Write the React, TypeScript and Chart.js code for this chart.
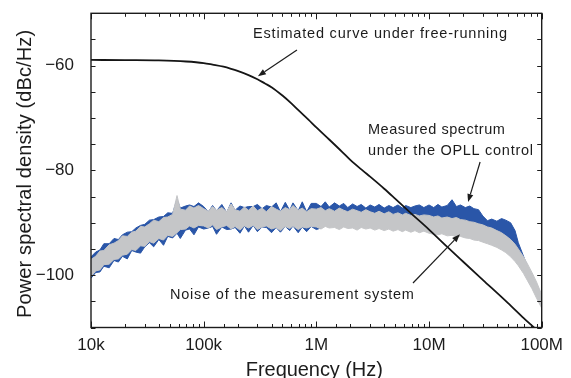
import React, { useEffect, useRef } from 'react';
import { Chart, registerables } from 'chart.js';

Chart.register(...registerables);

// ---------- data ----------
// Frequency grid of the measured traces (mantissas per decade × decades, plus the last point)
const mantissas = [1.0, 1.1, 1.2, 1.3, 1.45, 1.6, 1.75, 1.9, 2.1, 2.3, 2.5, 2.75, 3.0, 3.3, 3.6, 4.0, 4.4, 4.8, 5.3, 5.8, 6.2, 6.9, 7.5, 8.2, 9.0];
const decades = [1e4, 1e5, 1e6, 1e7];
const lastFreq = 1e8;

// Noise of the measurement system (gray): upper / lower envelope, dBc/Hz
const systemNoiseHi = [
  -97.0, -96.4, -95.4, -95.3, -94.2, -93.9, -93.4, -92.5, -92.6, -91.8, -91.6, -90.7, -90.8, -90.2, -89.5, -89.8, -89.0, -88.9, -88.4, -84.8, -87.4, -87.6, -86.8, -87.2, -86.7,
  -87.3, -87.8, -86.9, -87.6, -87.1, -87.9, -86.4, -87.5, -87.8, -87.0, -87.6, -86.8, -87.7, -87.2, -87.9, -86.9, -87.4, -87.8, -87.1, -87.5, -86.7, -87.6, -87.2, -87.9, -87.3,
  -87.4, -87.1, -87.7, -87.3, -87.8, -87.2, -87.6, -87.9, -87.4, -87.7, -88.0, -87.5, -87.9, -88.2, -87.8, -88.3, -87.9, -88.4, -88.1, -88.5, -88.2, -88.6, -88.4, -88.7, -88.5,
  -88.6, -88.9, -88.7, -89.1, -88.9, -89.2, -89.0, -89.4, -89.5, -89.8, -89.9, -90.2, -90.4, -90.8, -91.0, -91.5, -91.9, -92.5, -93.2, -94.1, -95.0, -96.5, -97.9, -99.5, -101.3,
  -103.7,
];
const systemNoiseLo = [
  -100.3, -99.2, -99.0, -98.0, -97.9, -97.0, -96.9, -96.2, -96.0, -95.1, -95.3, -94.4, -94.5, -93.6, -93.9, -93.0, -93.3, -92.4, -92.6, -91.9, -91.3, -91.2, -90.6, -91.0, -90.5,
  -90.6, -91.0, -90.4, -91.3, -90.8, -90.5, -91.2, -90.7, -91.4, -90.6, -91.0, -90.5, -91.3, -90.8, -90.6, -91.2, -90.9, -91.5, -90.7, -91.1, -90.6, -91.3, -90.8, -91.0, -90.7,
  -90.8, -91.2, -90.7, -91.0, -90.9, -91.3, -90.8, -91.1, -91.0, -91.4, -90.9, -91.2, -91.0, -91.4, -91.1, -91.5, -91.2, -91.6, -91.3, -91.7, -91.4, -91.8, -91.5, -91.9, -91.6,
  -92.0, -92.2, -92.3, -92.1, -92.5, -92.4, -92.7, -92.6, -92.9, -93.0, -93.3, -93.4, -93.7, -94.0, -94.3, -94.7, -95.2, -95.7, -96.5, -97.4, -98.2, -99.7, -101.1, -102.6, -104.4,
  -106.3,
];

// Measured spectrum under the OPLL control (blue): upper / lower envelope, dBc/Hz
const measuredHi = [
  -96.5, -95.6, -95.2, -94.0, -94.0, -93.0, -93.2, -92.3, -91.8, -91.7, -91.0, -90.5, -90.3, -89.5, -89.4, -88.9, -88.8, -88.1, -88.2, -85.5, -87.2, -86.8, -86.6, -86.9, -86.2,
  -86.9, -87.9, -86.7, -87.7, -86.5, -88.0, -86.2, -87.6, -86.8, -87.1, -86.9, -86.9, -86.5, -87.3, -86.7, -87.0, -86.2, -87.9, -86.1, -87.6, -86.2, -87.7, -86.0, -87.9, -86.3,
  -86.3, -86.9, -86.0, -87.0, -86.2, -86.8, -86.3, -87.1, -86.4, -86.9, -86.5, -87.2, -86.6, -87.0, -86.5, -87.2, -86.7, -87.1, -86.6, -87.2, -86.7, -87.1, -86.8, -86.6, -87.1,
  -86.6, -87.1, -86.5, -87.0, -86.7, -85.6, -86.9, -86.6, -87.1, -86.8, -87.3, -87.5, -88.7, -89.6, -89.3, -89.7, -89.2, -89.5, -90.0, -91.5, -93.8, -96.4, -98.4, -100.6, -102.6,
  -104.0,
];
const measuredLo = [
  -100.6, -99.5, -99.4, -98.3, -98.6, -97.2, -97.5, -96.4, -96.9, -95.3, -95.6, -95.8, -94.6, -93.8, -94.6, -93.2, -94.3, -92.6, -92.9, -92.0, -93.0, -91.4, -91.2, -92.3, -90.8,
  -91.2, -91.0, -90.7, -92.2, -90.8, -91.3, -91.2, -90.9, -92.0, -90.6, -91.8, -90.5, -91.7, -90.8, -90.9, -91.9, -90.9, -91.8, -90.7, -91.5, -90.6, -91.9, -90.8, -91.7, -90.7,
  -91.3, -91.0, -90.2, -89.9, -89.7, -89.6, -89.4, -89.3, -89.2, -89.1, -89.0, -89.1, -88.9, -89.0, -88.9, -89.0, -88.8, -89.0, -88.9, -89.1, -88.9, -89.0, -89.1, -88.9, -89.0,
  -89.1, -89.3, -89.2, -89.5, -89.4, -89.6, -89.5, -89.8, -89.9, -90.1, -90.3, -90.5, -91.0, -91.3, -91.5, -91.7, -92.0, -92.4, -93.3, -94.4, -95.4, -97.6, -99.2, -101.4, -103.6,
  -105.8,
];

// Estimated curve under free-running (black)
const curveFreqHz = [1e4, 2e4, 4e4, 7e4, 1e5, 1.2e5, 1.5e5, 1.75e5, 2e5, 2.5e5, 3e5, 3.5e5, 4e5, 5e5, 6e5, 7e5, 8.5e5, 1e6, 1.3e6, 1.7e6, 2e6, 2.6e6, 3e6, 4e6, 5e6, 7e6, 1e7, 1.5e7, 2e7, 3e7, 5e7, 7e7, 1e8];
const curveDb = [-58.9, -58.95, -59.0, -59.2, -59.5, -59.8, -60.2, -60.6, -61.0, -61.8, -62.6, -63.4, -64.1, -65.7, -67.2, -68.6, -70.3, -71.8, -74.1, -76.5, -78.0, -80.1, -81.2, -83.5, -85.4, -88.3, -91.3, -94.9, -97.4, -100.9, -105.3, -108.3, -111.3];

// Axes
const xTickValues = [1e4, 1e5, 1e6, 1e7, 1e8];
const xTickLabels = ['10k', '100k', '1M', '10M', '100M'];
const yTickValues = [-60, -80, -100];
const yTickLabels = ['\u221260', '\u221280', '\u2212100'];
const xTitle = 'Frequency (Hz)';
const yTitle = 'Power spectral density (dBc/Hz)';

// Annotations (anchored in data coordinates)
const annotations = [
  { lines: ['Estimated curve under free-running'], f: 2.74e5, dbs: [-54.8], widths: [254], from: [6.73e5, -57.0], to: [3.03e5, -62.0] },
  { lines: ['Measured spectrum', 'under the OPLL control'], f: 2.87e6, dbs: [-73.1, -77.07], widths: [137, 165], from: [2.84e7, -78.4], to: [2.22e7, -86.05] },
  { lines: ['Noise of the measurement system'], f: 5.02e4, dbs: [-104.64], widths: [244], from: [7.21e6, -101.5], to: [1.88e7, -92.2] },
];

// ---------- helpers ----------
const FONT = "'Liberation Sans', Arial, Helvetica, sans-serif";
const BLUE = '#2a56a8';
const GRAY = '#c5c6c8';
const INK = '#1c1c1c';
const TARGET_AREA = { left: 91, right: 541.7, top: 13.3, bottom: 327.5 };

const noiseFreqHz = [...decades.flatMap((d) => mantissas.map((m) => +(m * d).toPrecision(4))), lastFreq];
const toPoints = (xs: number[], ys: number[]) => xs.map((x, i) => ({ x, y: ys[i] }));

function spacedText(ctx: CanvasRenderingContext2D, text: string, x: number, y: number, target: number) {
  const c: any = ctx;
  c.letterSpacing = '0px';
  const natural = ctx.measureText(text).width;
  const ls = text.length > 1 ? (target - natural) / (text.length - 1) : 0;
  c.letterSpacing = `${ls}px`;
  ctx.fillText(text, x, y);
  c.letterSpacing = '0px';
}

function arrow(ctx: CanvasRenderingContext2D, x1: number, y1: number, x2: number, y2: number) {
  const ang = Math.atan2(y2 - y1, x2 - x1);
  const L = 8, W = 3;
  const bx = x2 - L * Math.cos(ang), by = y2 - L * Math.sin(ang);
  ctx.beginPath();
  ctx.moveTo(x1, y1);
  ctx.lineTo(bx, by);
  ctx.stroke();
  ctx.beginPath();
  ctx.moveTo(x2, y2);
  ctx.lineTo(bx + W * Math.sin(ang), by - W * Math.cos(ang));
  ctx.lineTo(bx - W * Math.sin(ang), by + W * Math.cos(ang));
  ctx.closePath();
  ctx.fill();
}

const decorPlugin = {
  id: 'decor',
  afterDraw(chart: any) {
    const { ctx, chartArea: a, scales } = chart;
    const x = scales.x, y = scales.y;
    ctx.save();
    ctx.strokeStyle = INK;
    ctx.fillStyle = INK;
    // inward ticks on all four sides
    ctx.lineWidth = 1;
    for (const t of x.ticks) {
      const px = Math.round(x.getPixelForValue(t.value)) + 0.5;
      const lg = Math.log10(t.value);
      const major = Math.abs(lg - Math.round(lg)) < 1e-6;
      const len = major ? 6 : 3.5;
      ctx.beginPath();
      ctx.moveTo(px, a.bottom); ctx.lineTo(px, a.bottom - len);
      ctx.moveTo(px, a.top); ctx.lineTo(px, a.top + len);
      ctx.stroke();
    }
    for (const t of y.ticks) {
      const py = Math.round(y.getPixelForValue(t.value)) + 0.5;
      const len = 4.5;
      ctx.beginPath();
      ctx.moveTo(a.left, py); ctx.lineTo(a.left + len, py);
      ctx.moveTo(a.right, py); ctx.lineTo(a.right - len, py);
      ctx.stroke();
    }
    // frame
    ctx.lineWidth = 1.4;
    ctx.strokeRect(a.left, a.top, a.right - a.left, a.bottom - a.top);

    // axis titles
    ctx.font = `20px ${FONT}`;
    ctx.textAlign = 'left';
    ctx.textBaseline = 'alphabetic';
    const cx = (a.left + a.right) / 2 - 2;
    spacedText(ctx, xTitle, cx - 137 / 2, 375.5, 137);
    ctx.save();
    const cy = (a.top + a.bottom) / 2 + 3.5;
    ctx.translate(30.5, cy);
    ctx.rotate(-Math.PI / 2);
    spacedText(ctx, yTitle, -288 / 2, 0, 288);
    ctx.restore();

    // annotations
    ctx.font = `14.5px ${FONT}`;
    ctx.lineWidth = 1.2;
    for (const an of annotations) {
      const tx = x.getPixelForValue(an.f);
      an.lines.forEach((ln, i) => spacedText(ctx, ln, tx, y.getPixelForValue(an.dbs[i]), an.widths[i]));
      arrow(ctx, x.getPixelForValue(an.from[0]), y.getPixelForValue(an.from[1]), x.getPixelForValue(an.to[0]), y.getPixelForValue(an.to[1]));
    }
    ctx.restore();
  },
};

const matchTick = (v: number, values: number[], labels: string[]) => {
  const i = values.findIndex((tv) => Math.abs(v / tv - 1) < 1e-6);
  return i >= 0 ? labels[i] : '';
};

export default function App() {
  const ref = useRef<HTMLCanvasElement>(null);
  useEffect(() => {
    document.body.style.margin = '0';
    const pad = { top: 13.3, right: 29.3, left: 0, bottom: 0 };
    const bandBase = { pointRadius: 0, borderWidth: 1, tension: 0 };
    const chart = new Chart(ref.current as HTMLCanvasElement, {
      type: 'line',
      data: {
        datasets: [
          { label: 'Estimated curve under free-running', data: toPoints(curveFreqHz, curveDb), borderColor: '#151515', borderWidth: 1.8, pointRadius: 0, cubicInterpolationMode: 'monotone', fill: false, order: 0 },
          { label: 'Noise of the measurement system (upper)', data: toPoints(noiseFreqHz, systemNoiseHi), borderColor: GRAY, backgroundColor: GRAY, fill: '+1', order: 1, ...bandBase },
          { label: 'Noise of the measurement system (lower)', data: toPoints(noiseFreqHz, systemNoiseLo), borderColor: GRAY, backgroundColor: GRAY, fill: false, order: 1, ...bandBase },
          { label: 'Measured spectrum (upper)', data: toPoints(noiseFreqHz, measuredHi), borderColor: BLUE, backgroundColor: BLUE, fill: '+1', order: 2, ...bandBase },
          { label: 'Measured spectrum (lower)', data: toPoints(noiseFreqHz, measuredLo), borderColor: BLUE, backgroundColor: BLUE, fill: false, order: 2, ...bandBase },
        ] as any,
      },
      options: {
        animation: false,
        responsive: false,
        devicePixelRatio: 1,
        layout: { padding: () => ({ ...pad }) },
        plugins: { legend: { display: false }, tooltip: { enabled: false } },
        scales: {
          x: {
            type: 'logarithmic',
            min: 1e4,
            max: 1e8,
            grid: { display: false },
            border: { display: false },
            afterFit: (s: any) => { s.height = 50.5; s.paddingLeft = 0; s.paddingRight = 0; },
            ticks: {
              autoSkip: false,
              maxRotation: 0,
              padding: 0,
              color: INK,
              font: { family: FONT, size: 17 },
              callback: (v: any) => matchTick(Number(v), xTickValues, xTickLabels),
            },
          },
          y: {
            type: 'linear',
            min: -110,
            max: -50,
            grid: { display: false },
            border: { display: false },
            afterFit: (s: any) => { s.width = 91; s.paddingTop = 0; s.paddingBottom = 0; },
            ticks: {
              stepSize: 5,
              autoSkip: false,
              padding: 9,
              color: INK,
              font: { family: FONT, size: 17 },
              callback: (v: any) => matchTick(Number(v), yTickValues, yTickLabels),
            },
          },
        },
      } as any,
      plugins: [decorPlugin],
    });
    // nudge the layout padding so the plot area lands where the reference has it
    for (let k = 0; k < 4; k++) {
      const a = chart.chartArea;
      const dTop = TARGET_AREA.top - a.top;
      const dLeft = TARGET_AREA.left - a.left;
      const dRight = a.right - TARGET_AREA.right;
      const dBottom = a.bottom - TARGET_AREA.bottom;
      if (Math.abs(dTop) + Math.abs(dLeft) + Math.abs(dRight) + Math.abs(dBottom) < 0.2) break;
      pad.top += dTop; pad.left += dLeft; pad.right += dRight; pad.bottom += dBottom;
      chart.update('none');
    }
    return () => chart.destroy();
  }, []);
  return <canvas ref={ref} width={571} height={378} style={{ display: 'block', width: 571, height: 378 }} />;
}
